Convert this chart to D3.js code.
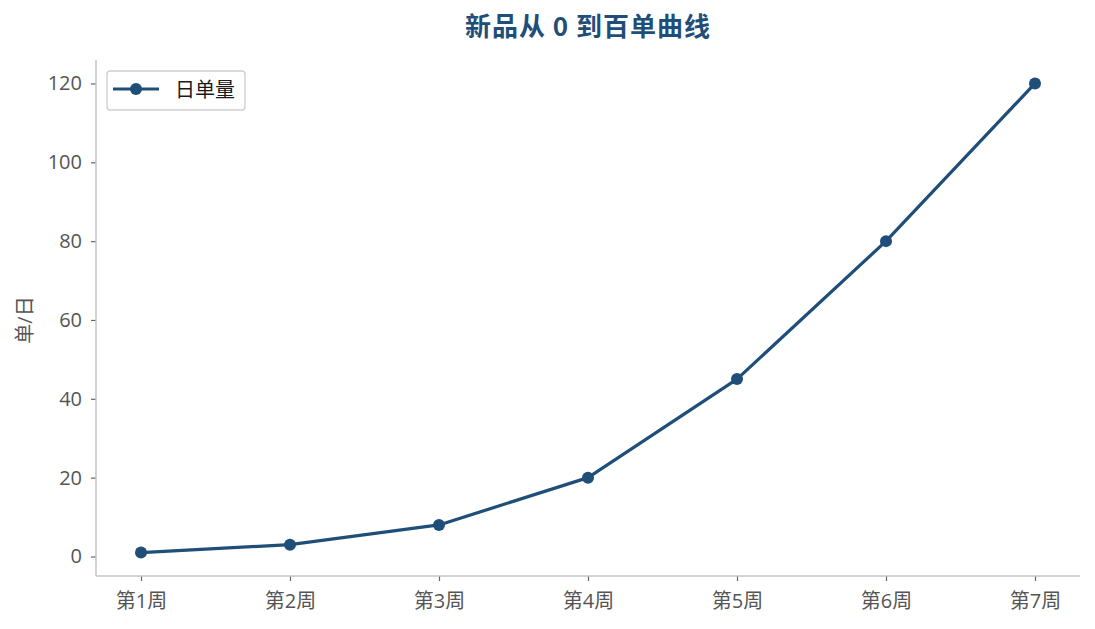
<!DOCTYPE html>
<html><head><meta charset="utf-8">
<script src="https://cdn.jsdelivr.net/npm/d3@7"></script>
<style>body{margin:0;background:#fff}svg{display:block;font-family:"Open Sans","Noto Sans CJK SC",sans-serif}</style>
</head><body><svg id="c" width="1095" height="629"></svg>
<script>
const categories = ["第1周","第2周","第3周","第4周","第5周","第6周","第7周"];
const values = [1, 3, 8, 20, 45, 80, 120];
const yTicks = [0, 20, 40, 60, 80, 100, 120];
const title = "新品从 0 到百单曲线";
const yLabel = "单/日";
const seriesName = "日单量";

const color = "#1f4e79";
const FF = '"Open Sans","Noto Sans CJK SC",sans-serif';
const svg = d3.select("#c");
const L = 96, R = 1080, T = 60, B = 576;
const x = d3.scalePoint().domain(categories).range([141, 1035]);
const y = d3.scaleLinear().domain([-4.95, 125.95]).range([B, T]);

const gy = svg.append("g").attr("transform", `translate(${L},0)`)
  .call(d3.axisLeft(y).tickValues(yTicks).tickSize(5).tickPadding(9));
const gx = svg.append("g").attr("transform", `translate(0,${B})`)
  .call(d3.axisBottom(x).tickSize(5).tickPadding(8));
[gx, gy].forEach(g => {
  g.select(".domain").remove();
  g.selectAll(".tick line").attr("stroke", "#666").attr("stroke-width", 1.2);
  g.selectAll(".tick text").attr("fill", "#555").attr("font-size", 20).attr("font-family", FF);
});
gx.selectAll(".tick text").attr("y", 32).attr("dy", 0);
svg.append("line").attr("x1", L).attr("x2", L).attr("y1", T).attr("y2", B).attr("stroke", "#c4c4c4").attr("stroke-width", 1.5);
svg.append("line").attr("x1", L).attr("x2", R).attr("y1", B).attr("y2", B).attr("stroke", "#c4c4c4").attr("stroke-width", 1.5);

const line = d3.line().x((d, i) => x(categories[i])).y(d => y(d));
svg.append("path").datum(values).attr("d", line).attr("fill", "none")
  .attr("stroke", color).attr("stroke-width", 3.2).attr("stroke-linejoin", "round");
svg.selectAll("circle.pt").data(values).enter().append("circle").attr("class", "pt")
  .attr("cx", (d, i) => x(categories[i])).attr("cy", d => y(d)).attr("r", 6).attr("fill", color);

svg.append("text").attr("x", (L + R) / 2).attr("y", 36).attr("text-anchor", "middle")
  .attr("font-size", 26).attr("font-weight", "bold").attr("letter-spacing", 1)
  .attr("font-family", '"Noto Sans CJK SC",sans-serif').attr("fill", color).text(title);
svg.append("text").attr("transform", `translate(32,${(T + B) / 2 + 2}) rotate(-90)`)
  .attr("text-anchor", "middle").attr("font-size", 20).attr("fill", "#555").text(yLabel);

const lg = svg.append("g");
lg.append("rect").attr("x", 107).attr("y", 71).attr("width", 138).attr("height", 39).attr("rx", 3)
  .attr("fill", "#fff").attr("stroke", "#d0d0d0").attr("stroke-width", 1.4);
lg.append("line").attr("x1", 113).attr("x2", 159).attr("y1", 89).attr("y2", 89).attr("stroke", color).attr("stroke-width", 3.2);
lg.append("circle").attr("cx", 136).attr("cy", 89).attr("r", 6).attr("fill", color);
lg.append("text").attr("x", 175).attr("y", 97).attr("font-size", 20).attr("fill", "#1a1a1a").text(seriesName);
</script></body></html>
